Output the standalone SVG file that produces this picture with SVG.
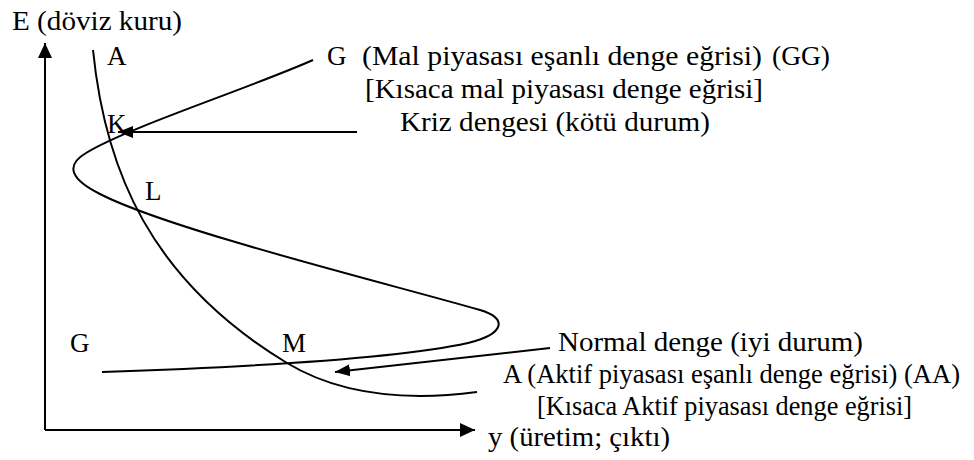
<svg xmlns="http://www.w3.org/2000/svg" width="974" height="460" viewBox="0 0 974 460">
  <style>
    .t { font-family: "Liberation Serif", "Times New Roman", serif; font-size: 27px; fill: #000; }
    .ln { fill: none; stroke: #000; stroke-width: 2; }
  </style>
  <defs>
    <marker id="ah" markerUnits="userSpaceOnUse" markerWidth="16" markerHeight="16" viewBox="0 0 16 16" refX="15" refY="8" orient="auto">
      <path d="M0,1 L15,8 L0,15 Z" fill="#000"/>
    </marker>
    <marker id="ahs" markerUnits="userSpaceOnUse" markerWidth="16" markerHeight="14" viewBox="0 0 16 14" refX="15" refY="7" orient="auto">
      <path d="M0,1 L15,7 L0,13 Z" fill="#000"/>
    </marker>
  </defs>
  <rect width="974" height="460" fill="#fff"/>

  <g id="axes">
    <path class="ln" d="M45,430 V43" marker-end="url(#ah)"/>
    <path class="ln" d="M45,430 H475" marker-end="url(#ah)"/>
    <text class="t" x="12" y="30" textLength="170" lengthAdjust="spacingAndGlyphs">E (döviz kuru)</text>
    <text class="t" x="488" y="446" textLength="182" lengthAdjust="spacingAndGlyphs">y (üretim; çıktı)</text>
  </g>

  <g id="curve-AA">
    <path class="ln" d="M93,50 C105,170 150,280 287,363 C335,392 400,402 477,392"/>
    <text class="t" x="107" y="65">A</text>
    <text class="t" x="503" y="383" textLength="457" lengthAdjust="spacingAndGlyphs">A (Aktif piyasası eşanlı denge eğrisi) (AA)</text>
    <text class="t" x="537" y="415" textLength="375" lengthAdjust="spacingAndGlyphs">[Kısaca Aktif piyasası denge eğrisi]</text>
  </g>

  <g id="curve-GG">
    <path class="ln" d="M102,372 C250,367 400,358 468,343 C505,334 508,318 480,310 C390,284 170,230 100,194 C72,180 64,166 86,153 C126,128 250,88 313,60"/>
    <text class="t" x="327" y="65">G</text>
    <text class="t" x="362" y="65" textLength="400" lengthAdjust="spacingAndGlyphs">(Mal piyasası eşanlı denge eğrisi)</text>
    <text class="t" x="772" y="65" textLength="58" lengthAdjust="spacingAndGlyphs">(GG)</text>
    <text class="t" x="365" y="98" textLength="398" lengthAdjust="spacingAndGlyphs">[Kısaca mal piyasası denge eğrisi]</text>
    <text class="t" x="70" y="352">G</text>
  </g>

  <g id="point-K">
    <text class="t" x="107" y="133">K</text>
    <text class="t" x="400" y="131" textLength="310" lengthAdjust="spacingAndGlyphs">Kriz dengesi (kötü durum)</text>
  </g>
  <g id="point-L">
    <text class="t" x="145" y="200">L</text>
  </g>
  <g id="point-M">
    <text class="t" x="282" y="352">M</text>
    <text class="t" x="558" y="351" textLength="305" lengthAdjust="spacingAndGlyphs">Normal denge (iyi durum)</text>
  </g>

  <g id="connectors">
    <path class="ln" d="M357,132 H118" marker-end="url(#ahs)"/>
    <path class="ln" d="M550,348 L335,372" marker-end="url(#ahs)"/>
  </g>
</svg>
